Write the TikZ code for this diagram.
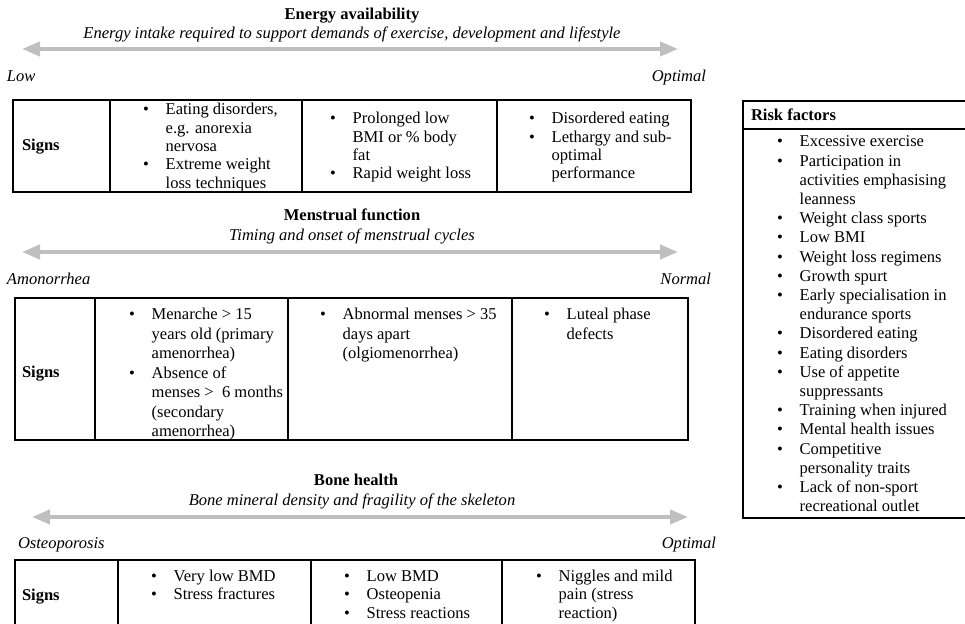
\documentclass[tikz,border=0pt]{standalone}
\usepackage{fontspec}
\setmainfont{Liberation Serif}
\usetikzlibrary{arrows.meta}
\definecolor{arrowgray}{RGB}{191,191,191}
\newcommand\bu{\makebox[17pt][l]{\textbullet}}
\newcommand\bcell[1]{\begin{tabular}[t]{@{}l@{}l@{}}#1\end{tabular}}
\begin{document}
\begin{tikzpicture}[x=0.75pt,y=-0.75pt,
  every node/.style={inner sep=0pt, outer sep=0pt},
  ttl/.style={anchor=base, font=\fontsize{12.4}{14.4}\selectfont\bfseries},
  sub/.style={anchor=base, font=\fontsize{12.4}{14.4}\selectfont\itshape},
  endl/.style={anchor=base west, font=\fontsize{12.4}{14.4}\selectfont\itshape},
  endr/.style={anchor=base east, font=\fontsize{12.4}{14.4}\selectfont\itshape},
  signs/.style={anchor=base west, font=\fontsize{12.4}{14.4}\selectfont\bfseries},
  cellA/.style={anchor=base west, font=\fontsize{12.4}{13.7}\selectfont},
  cellB/.style={anchor=base west, font=\fontsize{12.4}{14.6}\selectfont},
  cellC/.style={anchor=base west, font=\fontsize{12.4}{14.2}\selectfont},
  cellR/.style={anchor=base west, font=\fontsize{12.4}{14.4}\selectfont},
  grid/.style={line width=1.5pt, draw=black},
  spectrum/.style={draw=arrowgray, line width=3pt,
    {Triangle[length=13.5pt,width=10.5pt]}-{Triangle[length=13.5pt,width=10.5pt]}},
]
\useasboundingbox (0,0) rectangle (965,624);
\clip (0,0) rectangle (965,624);

% ---------------- Energy availability ----------------
\node[ttl] (t1) at (352,20) {Energy availability};
\node[sub] (s1) at (352,39) {Energy intake required to support demands of exercise, development and lifestyle};
\coordinate (a1l) at (22,49);
\coordinate (a1r) at (678,49);
\draw[spectrum] (a1l) -- (a1r);
\node[endl] (l1) at (7,82) {Low};
\node[endr] (r1) at (706,82) {Optimal};

\draw[grid] (13,100) rectangle (691,192);
\draw[grid] (110,100) -- (110,192);
\draw[grid] (302,100) -- (302,192);
\draw[grid] (497,100) -- (497,192);
\node[signs] (sg1) at (22,151) {Signs};
\node[cellA] (c11) at (143,115) {\bcell{\bu & Eating disorders,\\ & e.g. anorexia\\ & nervosa\\ \bu & Extreme weight\\ & loss techniques}};
\node[cellA] (c12) at (330,124) {\bcell{\bu & Prolonged low\\ & BMI or \% body\\ & fat\\ \bu & Rapid weight loss}};
\node[cellA] (c13) at (529,124) {\bcell{\bu & Disordered eating\\ \bu & Lethargy and sub-\\ & optimal\\ & performance}};

% ---------------- Menstrual function ----------------
\node[ttl] (t2) at (352,221) {Menstrual function};
\node[sub] (s2) at (352,241) {Timing and onset of menstrual cycles};
\coordinate (a2l) at (22,252);
\coordinate (a2r) at (678,252);
\draw[spectrum] (a2l) -- (a2r);
\node[endl] (l2) at (7,285) {Amonorrhea};
\node[endr] (r2) at (711,285) {Normal};

\draw[grid] (15,298) rectangle (688,440);
\draw[grid] (95,298) -- (95,440);
\draw[grid] (288,298) -- (288,440);
\draw[grid] (512,298) -- (512,440);
\node[signs] (sg2) at (22,378) {Signs};
\node[cellB] (c21) at (129,320) {\bcell{\bu & Menarche > 15\\ & years old (primary\\ & amenorrhea)\\ \bu & Absence of\\ & menses >\ \ 6 months\\ & (secondary\\ & amenorrhea)}};
\node[cellB] (c22) at (320,320) {\bcell{\bu & Abnormal menses > 35\\ & days apart\\ & (olgiomenorrhea)}};
\node[cellB] (c23) at (544,320) {\bcell{\bu & Luteal phase\\ & defects}};

% ---------------- Bone health ----------------
\node[ttl] (t3) at (356,485) {Bone health};
\node[sub] (s3) at (352,505) {Bone mineral density and fragility of the skeleton};
\coordinate (a3l) at (32,517);
\coordinate (a3r) at (688,517);
\draw[spectrum] (a3l) -- (a3r);
\node[endl] (l3) at (18,548) {Osteoporosis};
\node[endr] (r3) at (716,548) {Optimal};

\draw[grid] (15,630) -- (15,560) -- (695,560) -- (695,630);
\draw[grid] (118,560) -- (118,630);
\draw[grid] (311,560) -- (311,630);
\draw[grid] (502,560) -- (502,630);
\node[signs] (sg3) at (22,600) {Signs};
\node[cellC] (c31) at (151,581) {\bcell{\bu & Very low BMD\\ \bu & Stress fractures}};
\node[cellC] (c32) at (344,581) {\bcell{\bu & Low BMD\\ \bu & Osteopenia\\ \bu & Stress reactions}};
\node[cellC] (c33) at (536,581) {\bcell{\bu & Niggles and mild\\ & pain (stress\\ & reaction)}};

% ---------------- Risk factors ----------------
\draw[grid] (743,101) rectangle (985,518);
\draw[grid] (743,129) -- (985,129);
\node[signs] (rh) at (751,121) {Risk factors};
\node[cellR] (rl) at (777,147) {\bcell{\bu & Excessive exercise\\
 \bu & Participation in\\ & activities emphasising\\ & leanness\\
 \bu & Weight class sports\\
 \bu & Low BMI\\
 \bu & Weight loss regimens\\
 \bu & Growth spurt\\
 \bu & Early specialisation in\\ & endurance sports\\
 \bu & Disordered eating\\
 \bu & Eating disorders\\
 \bu & Use of appetite\\ & suppressants\\
 \bu & Training when injured\\
 \bu & Mental health issues\\
 \bu & Competitive\\ & personality traits\\
 \bu & Lack of non-sport\\ & recreational outlet}};
\end{tikzpicture}
\end{document}
